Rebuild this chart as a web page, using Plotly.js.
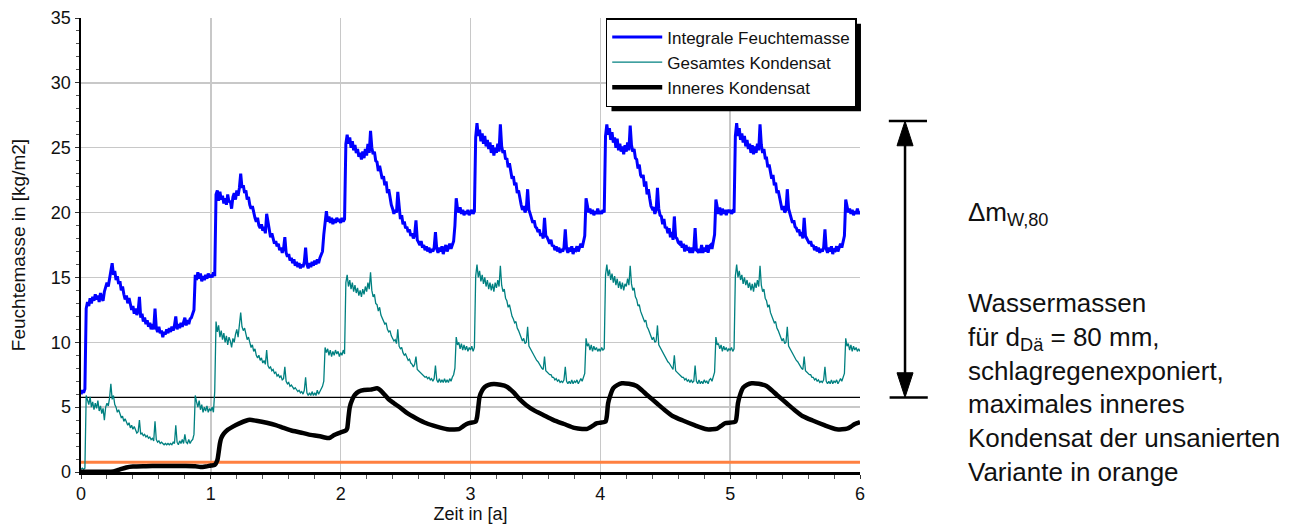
<!DOCTYPE html>
<html>
<head>
<meta charset="utf-8">
<script src="https://cdn.plot.ly/plotly-3.0.1.min.js"></script>
<style>
html, body { margin: 0; padding: 0; background: #ffffff; }
#chart { width: 1301px; height: 529px; }
</style>
</head>
<body>
<div id="chart"></div>
<script>
// ---- time axis of the sampled series (years), step 0.01 from 0 to 6 ----
const T_START = 0;
const T_STEP = 0.01;

// ---- Integrale Feuchtemasse [kg/m2], one value per 0.01 a ----
const integraleFeuchtemasse = [
  // year 0
  6.0, 6.3, 6.1, 6.4, 12.6, 13.1, 12.8, 13.4, 13.0, 13.5,
  13.2, 13.7, 13.3, 13.6, 13.1, 13.8, 13.4, 13.2, 13.9, 14.2,
  14.6, 14.3, 15.0, 15.4, 16.1, 15.2, 15.5, 14.8, 15.1, 14.5,
  14.7, 14.0, 14.3, 13.7, 13.3, 13.6, 13.0, 13.4, 12.8, 12.5,
  12.8, 12.2, 12.6, 12.1, 12.4, 13.5, 11.9, 12.2, 11.6, 11.9,
  11.4, 11.7, 11.2, 11.5, 11.0, 11.4, 11.0, 12.6, 11.1, 10.8,
  11.2, 10.7, 10.9, 10.4, 10.8, 10.6, 11.0, 10.7, 11.1, 10.8,
  11.2, 10.9, 11.3, 12.0, 11.0, 11.4, 11.1, 11.5, 11.2, 11.6,
  11.9, 11.3, 11.7, 11.4, 11.8, 11.9, 12.3, 12.5, 15.2, 14.8,
  15.4, 14.9, 15.3, 14.7, 15.1, 14.8, 15.2, 14.9, 15.3, 15.0,
  // year 1
  15.2, 15.0, 15.4, 15.1, 21.4, 21.7, 20.9, 21.6, 21.0, 21.3,
  20.7, 21.1, 20.6, 21.4, 20.8, 20.9, 20.3, 21.2, 21.5, 21.0,
  21.7, 21.3, 21.9, 23.0, 21.9, 22.1, 21.5, 21.7, 21.0, 21.2,
  20.6, 20.3, 20.5, 19.9, 19.6, 19.3, 19.6, 19.0, 18.8, 19.1,
  18.6, 18.9, 18.4, 19.9, 19.2, 18.5, 18.1, 18.4, 17.9, 17.6,
  17.8, 17.4, 17.6, 17.1, 17.3, 16.9, 17.2, 18.1, 16.9, 16.6,
  16.8, 16.3, 16.5, 16.1, 16.4, 15.9, 16.2, 15.8, 16.1, 15.7,
  16.0, 15.8, 16.2, 17.3, 16.0, 15.7, 16.1, 15.8, 16.2, 15.9,
  16.3, 16.0, 16.4, 16.1, 16.5, 16.7, 17.0, 18.3, 19.4, 20.1,
  19.3, 19.7, 19.2, 19.6, 19.1, 19.5, 19.2, 19.6, 19.3, 19.5,
  // year 2
  19.2, 19.6, 19.3, 19.5, 25.3, 26.0, 25.3, 25.8, 25.0, 25.5,
  24.8, 25.2, 24.6, 24.9, 24.3, 24.6, 24.1, 24.7, 24.2, 24.9,
  24.4, 25.3, 24.6, 26.3, 25.0, 24.5, 24.7, 24.0, 23.9, 23.2,
  23.6, 22.9, 22.6, 22.8, 22.1, 22.4, 21.5, 21.8, 21.1, 20.6,
  20.3, 19.9, 20.2, 20.0, 21.6, 20.4, 19.5, 19.8, 19.1, 19.3,
  18.8, 18.9, 18.5, 18.7, 18.2, 18.4, 18.0, 18.3, 19.4, 17.9,
  17.7, 17.5, 17.8, 17.3, 17.5, 17.1, 17.4, 17.0, 17.3, 16.9,
  17.2, 17.0, 17.3, 18.5, 17.2, 16.9, 17.3, 17.0, 17.4, 16.8,
  17.2, 17.5, 17.0, 17.3, 17.6, 17.2, 17.6, 17.8, 19.0, 21.1,
  20.3, 20.0, 20.4, 19.9, 20.2, 19.8, 20.1, 19.9, 20.2, 19.8,
  // year 3
  20.0, 20.2, 19.9, 20.1, 25.8, 26.9, 25.9, 26.4, 25.5, 26.1,
  25.3, 25.9, 25.1, 25.6, 24.9, 25.4, 24.6, 25.2, 24.4, 25.0,
  24.6, 25.3, 24.7, 26.8, 25.1, 24.6, 24.8, 24.1, 24.2, 23.5,
  23.8, 23.0, 22.6, 22.8, 22.1, 22.3, 21.5, 21.7, 21.0, 20.6,
  20.2, 20.5, 20.0, 20.3, 21.8, 20.2, 19.9, 19.6, 19.2, 19.4,
  18.9, 18.8, 18.5, 18.7, 18.2, 18.4, 18.0, 19.6, 18.2, 18.1,
  17.8, 17.6, 17.9, 17.4, 17.5, 17.1, 17.4, 17.0, 17.3, 16.9,
  17.2, 17.0, 17.3, 18.7, 17.2, 16.9, 17.3, 17.0, 17.4, 16.8,
  17.2, 17.1, 17.4, 17.0, 17.3, 17.6, 17.3, 17.8, 18.2, 21.1,
  20.4, 20.0, 20.3, 19.9, 20.2, 19.8, 20.1, 19.9, 20.3, 19.9,
  // year 4
  20.1, 19.9, 20.2, 20.0, 25.9, 26.8, 26.0, 26.5, 25.6, 26.2,
  25.4, 25.8, 25.0, 25.7, 24.8, 25.3, 24.7, 25.1, 24.5, 25.2,
  24.7, 25.4, 24.8, 26.7, 25.2, 24.7, 24.9, 24.2, 24.1, 23.4,
  23.7, 22.9, 22.7, 22.9, 22.0, 22.4, 21.4, 21.8, 21.1, 20.5,
  20.3, 20.4, 19.9, 20.2, 21.9, 20.3, 19.8, 19.7, 19.1, 19.5,
  18.8, 18.9, 18.4, 18.8, 18.1, 18.5, 17.9, 19.7, 18.1, 18.0,
  17.7, 17.6, 17.8, 17.3, 17.6, 17.0, 17.5, 17.1, 17.2, 16.9,
  17.3, 16.9, 17.2, 18.8, 17.1, 17.0, 17.2, 16.9, 17.5, 16.9,
  17.3, 17.0, 17.5, 16.9, 17.4, 17.5, 17.2, 17.9, 18.3, 21.0,
  20.5, 19.9, 20.4, 19.8, 20.3, 19.9, 20.2, 19.8, 20.2, 20.0,
  // year 5
  20.2, 19.9, 20.1, 20.0, 25.9, 26.9, 25.9, 26.5, 25.6, 26.1,
  25.4, 25.9, 25.1, 25.6, 24.9, 25.3, 24.6, 25.2, 24.5, 25.1,
  24.6, 25.3, 24.8, 26.8, 25.2, 24.6, 24.9, 24.2, 24.2, 23.5,
  23.7, 23.0, 22.6, 22.9, 22.1, 22.3, 21.5, 21.7, 21.1, 20.6,
  20.2, 20.5, 20.0, 20.2, 21.8, 20.3, 19.9, 19.6, 19.2, 19.4,
  18.9, 18.8, 18.5, 18.7, 18.2, 18.5, 18.0, 19.6, 18.2, 18.0,
  17.8, 17.6, 17.8, 17.4, 17.5, 17.1, 17.4, 17.0, 17.3, 16.9,
  17.2, 17.0, 17.3, 18.7, 17.2, 16.9, 17.3, 17.0, 17.4, 16.8,
  17.2, 17.1, 17.4, 17.0, 17.3, 17.6, 17.3, 17.8, 18.2, 21.0,
  20.4, 20.0, 20.3, 19.9, 20.2, 19.8, 20.1, 19.9, 20.3, 19.9,
  20.1
];

// ---- Gesamtes Kondensat [kg/m2], one value per 0.01 a ----
const gesamtesKondensat = [
  // year 0
  0.2, 0.3, 0.2, 0.3, 5.9, 5.6, 5.2, 5.8, 5.0, 5.4,
  4.8, 5.3, 4.9, 5.5, 4.7, 5.1, 4.5, 4.9, 4.0, 5.0,
  5.3, 5.1, 5.7, 6.8, 5.6, 5.9, 5.2, 5.0, 4.6, 4.8,
  4.4, 4.2, 4.3, 3.9, 4.1, 3.8, 3.6, 3.8, 3.4, 3.6,
  3.3, 3.5, 3.2, 3.0, 3.1, 4.0, 2.9, 3.0, 2.8, 2.9,
  2.7, 2.8, 2.6, 2.7, 2.5, 2.6, 2.4, 3.9, 2.5, 2.3,
  2.4, 2.2, 2.3, 2.2, 2.1, 2.2, 2.1, 2.2, 2.1, 2.2,
  2.1, 2.3, 2.2, 3.6, 2.3, 2.1, 2.4, 2.2, 2.5, 2.2,
  2.9, 2.3, 2.2, 2.5, 2.2, 2.4, 2.5, 2.9, 5.9, 5.4,
  5.0, 5.5, 4.8, 5.2, 4.6, 5.0, 4.7, 5.1, 4.6, 4.9,
  // year 1
  4.7, 5.0, 4.6, 6.2, 11.6, 10.8, 11.3, 10.4, 10.9, 10.2,
  10.7, 10.0, 10.5, 9.8, 10.4, 10.1, 9.6, 10.3, 10.0, 10.6,
  11.0, 10.4, 11.2, 12.3, 11.2, 10.9, 11.1, 10.5, 10.2, 10.4,
  9.9, 9.6, 9.8, 9.3, 9.5, 9.0, 8.8, 9.0, 8.6, 8.8,
  8.4, 8.6, 8.3, 9.4, 8.2, 8.0, 8.1, 7.8, 7.9, 7.6,
  7.7, 7.4, 7.5, 7.3, 7.4, 7.1, 7.2, 8.1, 7.0, 6.8,
  6.9, 6.6, 6.7, 6.5, 6.4, 6.5, 6.3, 6.2, 6.3, 6.1,
  6.2, 6.0, 6.3, 7.3, 6.1, 5.9, 6.1, 5.9, 6.2, 5.9,
  6.1, 5.9, 6.3, 6.0, 6.2, 6.4, 6.6, 7.0, 9.6, 9.2,
  9.5, 9.0, 9.4, 8.9, 9.3, 9.0, 9.4, 9.1, 9.3, 8.9,
  // year 2
  9.2, 9.0, 9.4, 9.1, 14.6, 15.2, 14.3, 14.8, 14.1, 14.6,
  13.9, 14.4, 13.8, 14.2, 13.6, 14.0, 13.5, 14.1, 13.7, 14.3,
  13.9, 14.6, 14.1, 15.4, 14.0, 13.5, 13.7, 13.0, 12.9, 12.4,
  12.7, 12.1, 11.9, 11.7, 11.4, 11.5, 11.0, 10.8, 10.9, 10.5,
  10.3, 10.1, 10.2, 9.9, 11.0, 9.7, 9.5, 9.6, 9.2, 9.0,
  9.1, 8.8, 8.6, 8.7, 8.4, 8.3, 8.1, 8.3, 8.9, 7.9,
  7.8, 7.7, 7.6, 7.5, 7.4, 7.3, 7.35, 7.2, 7.3, 7.1,
  7.2, 7.0, 7.2, 8.2, 7.1, 6.9, 7.2, 6.9, 7.1, 6.9,
  7.2, 6.9, 7.1, 6.9, 7.2, 7.0, 7.3, 7.5, 8.0, 10.4,
  9.8, 10.0, 9.5, 9.9, 9.4, 9.8, 9.4, 9.7, 9.3, 9.6,
  // year 3
  9.4, 9.7, 9.3, 9.6, 15.1, 16.0, 15.0, 15.5, 14.7, 15.2,
  14.5, 15.0, 14.3, 14.8, 14.1, 14.6, 14.0, 14.5, 13.9, 14.6,
  14.2, 14.8, 14.3, 15.9, 14.4, 13.9, 14.1, 13.4, 13.2, 12.7,
  12.9, 12.3, 12.0, 11.8, 11.5, 11.6, 11.1, 10.9, 10.6, 10.4,
  10.1, 10.3, 9.9, 10.0, 11.2, 9.7, 9.5, 9.3, 9.1, 8.9,
  8.8, 8.6, 8.5, 8.3, 8.2, 8.0, 7.9, 8.9, 7.8, 7.7,
  7.6, 7.5, 7.5, 7.3, 7.3, 7.1, 7.2, 7.0, 7.1, 6.9,
  7.0, 6.9, 7.1, 8.1, 7.0, 6.8, 7.0, 6.8, 7.1, 6.8,
  7.0, 6.9, 7.1, 6.8, 7.0, 7.2, 7.0, 7.3, 7.6, 10.3,
  9.7, 9.9, 9.4, 9.8, 9.3, 9.7, 9.4, 9.6, 9.3, 9.5,
  // year 4
  9.3, 9.6, 9.4, 9.5, 15.2, 16.0, 15.1, 15.6, 14.8, 15.3,
  14.6, 15.1, 14.4, 14.9, 14.2, 14.7, 14.1, 14.6, 14.0, 14.5,
  14.3, 14.9, 14.4, 15.9, 14.5, 14.0, 14.2, 13.5, 13.3, 12.8,
  12.9, 12.4, 12.1, 11.9, 11.6, 11.7, 11.2, 11.0, 10.7, 10.4,
  10.2, 10.4, 10.0, 10.1, 11.3, 9.8, 9.6, 9.4, 9.2, 9.0,
  8.9, 8.7, 8.5, 8.4, 8.2, 8.1, 7.9, 9.0, 7.8, 7.7,
  7.6, 7.5, 7.4, 7.3, 7.3, 7.1, 7.2, 7.0, 7.1, 6.9,
  7.1, 6.9, 7.0, 8.2, 7.0, 6.8, 7.1, 6.8, 7.0, 6.8,
  7.1, 6.9, 7.0, 6.8, 7.1, 7.2, 7.0, 7.4, 7.7, 10.4,
  9.8, 9.9, 9.5, 9.8, 9.3, 9.7, 9.4, 9.6, 9.3, 9.5,
  // year 5
  9.4, 9.6, 9.3, 9.5, 15.1, 16.0, 15.0, 15.5, 14.8, 15.2,
  14.5, 15.0, 14.4, 14.8, 14.2, 14.6, 14.0, 14.5, 13.9, 14.6,
  14.2, 14.8, 14.3, 15.9, 14.4, 13.9, 14.1, 13.4, 13.2, 12.7,
  12.9, 12.3, 12.0, 11.8, 11.5, 11.6, 11.1, 10.9, 10.6, 10.4,
  10.1, 10.3, 9.9, 10.0, 11.2, 9.7, 9.5, 9.3, 9.1, 8.9,
  8.8, 8.6, 8.5, 8.3, 8.2, 8.0, 7.9, 8.9, 7.8, 7.7,
  7.6, 7.5, 7.5, 7.3, 7.3, 7.1, 7.2, 7.0, 7.1, 6.9,
  7.0, 6.9, 7.1, 8.1, 7.0, 6.8, 7.0, 6.8, 7.1, 6.8,
  7.0, 6.9, 7.1, 6.8, 7.0, 7.2, 7.0, 7.3, 7.6, 10.3,
  9.7, 9.9, 9.4, 9.8, 9.3, 9.7, 9.4, 9.6, 9.3, 9.5,
  9.3
];

// ---- Inneres Kondensat [kg/m2] (smooth curve, explicit time/value pairs) ----
const inneresZeit = [
  0, 0.25, 0.3, 0.35, 0.4, 0.5, 0.6, 0.7, 0.8, 0.88, 0.92, 0.96, 1.0, 1.03,
  1.05, 1.06, 1.07, 1.08, 1.1, 1.13, 1.17, 1.22, 1.27, 1.3, 1.35, 1.43, 1.5,
  1.56, 1.62, 1.69, 1.75, 1.84, 1.9, 1.92, 1.95, 2.0, 2.04, 2.05, 2.06, 2.07,
  2.09, 2.11, 2.14, 2.18, 2.23, 2.28, 2.3, 2.33, 2.37, 2.41, 2.46, 2.51, 2.58,
  2.66, 2.74, 2.82, 2.87, 2.91, 2.94, 2.97, 3.0, 3.04, 3.05, 3.06, 3.07, 3.09,
  3.11, 3.14, 3.18, 3.23, 3.28, 3.33, 3.38, 3.43, 3.49, 3.56, 3.64, 3.72, 3.8,
  3.86, 3.9, 3.94, 3.97, 4.0, 4.04, 4.05, 4.06, 4.08, 4.1, 4.13, 4.165, 4.22,
  4.28, 4.32, 4.36, 4.435, 4.5, 4.56, 4.64, 4.72, 4.82, 4.9, 4.93, 4.96, 5.04,
  5.05, 5.06, 5.08, 5.1, 5.13, 5.165, 5.22, 5.28, 5.32, 5.36, 5.435, 5.5, 5.56,
  5.64, 5.72, 5.82, 5.9, 5.93, 5.96, 6.0
];
const inneresKondensat = [
  0.02, 0.05, 0.2, 0.35, 0.42, 0.45, 0.47, 0.47, 0.47, 0.45, 0.38, 0.42, 0.5, 0.55,
  0.9, 1.5, 2.2, 2.6, 2.95, 3.25, 3.5, 3.75, 3.95, 4.02, 3.95, 3.8, 3.62,
  3.4, 3.2, 3.05, 2.9, 2.75, 2.62, 2.65, 2.85, 3.05, 3.2, 3.35, 4.2, 5.0,
  5.6, 5.95, 6.2, 6.32, 6.35, 6.45, 6.35, 6.05, 5.6, 5.3, 4.95, 4.55, 4.15,
  3.76, 3.5, 3.3, 3.28, 3.3, 3.5, 3.7, 3.8, 3.88, 4.2, 5.0, 5.8, 6.3,
  6.55, 6.72, 6.78, 6.72, 6.58, 6.15, 5.6, 5.15, 4.75, 4.4, 4.0, 3.7, 3.4,
  3.32, 3.33, 3.55, 3.75, 3.8, 3.88, 4.3, 5.3, 6.0, 6.46, 6.7, 6.84, 6.8,
  6.63, 6.3, 5.94, 5.3, 4.75, 4.3, 3.95, 3.63, 3.29, 3.35, 3.55, 3.76, 3.88,
  4.3, 5.3, 6.05, 6.5, 6.72, 6.84, 6.8, 6.63, 6.3, 5.94, 5.3, 4.75, 4.3,
  3.95, 3.63, 3.29, 3.35, 3.5, 3.7, 3.85
];

// ---- reference levels [kg/m2] ----
const grenzeZeit = [0, 6];
const schwarzeLinie = 5.75;        // thin black reference line
const unsaniertMaxInnen = 0.75;    // max. inneres Kondensat, unsaniert (orange)
const deltaTop = 27.05;            // top of delta m_W,80 arrow
const deltaBottom = 5.75;          // bottom of delta m_W,80 arrow

// ---- texts ----
const seriesNames = ['Integrale Feuchtemasse', 'Gesamtes Kondensat', 'Inneres Kondensat'];
const xTitle = 'Zeit in [a]';
const yTitle = 'Feuchtemasse in [kg/m2]';
const deltaLabel = '\u0394m<sub>W,80</sub>';
const noteLines = [
  'Wassermassen',
  'für d<sub>Dä</sub> = 80 mm,',
  'schlagregenexponiert,',
  'maximales inneres',
  'Kondensat der unsanierten',
  'Variante in orange'
];

const timeAxis = integraleFeuchtemasse.map((_, i) => +(T_START + i * T_STEP).toFixed(2));

const FONT = 'Liberation Sans, Arial, Helvetica, sans-serif';

const traces = [
  { x: grenzeZeit, y: [schwarzeLinie, schwarzeLinie], mode: 'lines',
    line: { color: '#000000', width: 1.3 }, showlegend: false, hoverinfo: 'skip' },
  { x: grenzeZeit, y: [unsaniertMaxInnen, unsaniertMaxInnen], mode: 'lines',
    line: { color: '#ff8040', width: 3 }, showlegend: false, hoverinfo: 'skip' },
  { x: timeAxis, y: integraleFeuchtemasse, name: seriesNames[0], mode: 'lines',
    line: { color: '#0000ff', width: 3 } },
  { x: timeAxis, y: gesamtesKondensat, name: seriesNames[1], mode: 'lines',
    line: { color: '#008080', width: 1.3 } },
  { x: inneresZeit, y: inneresKondensat, name: seriesNames[2], mode: 'lines',
    line: { color: '#000000', width: 4.5, shape: 'spline', smoothing: 0.6 } }
];

const arrowX = 1.0578;
const halfW = 0.0103;
const headLen = 1.9;

const layout = {
  width: 1301, height: 529,
  margin: { l: 81, r: 441, t: 17.5, b: 57, pad: 0 },
  paper_bgcolor: '#ffffff', plot_bgcolor: '#ffffff',
  font: { family: FONT, color: '#111111', size: 18 },
  showlegend: true,
  legend: {
    x: 0.9958, y: 1.0, xanchor: 'right', yanchor: 'top',
    bgcolor: '#ffffff', bordercolor: '#000000', borderwidth: 1.5,
    font: { family: FONT, size: 17, color: '#111111' },
    itemwidth: 50, tracegroupgap: 0, traceorder: 'normal'
  },
  xaxis: {
    range: [0, 6], dtick: 1, tick0: 0, fixedrange: true,
    showline: true, linecolor: '#000000', linewidth: 2.5,
    ticks: 'outside', ticklen: 4, tickwidth: 1, tickcolor: '#333333',
    showgrid: true, gridcolor: '#c8c8c8', gridwidth: 1.5, zeroline: false,
    tickfont: { family: FONT, size: 18, color: '#111111' },
    minor: { dtick: 0.2, ticks: 'outside', ticklen: 4, tickcolor: '#555555', showgrid: false },
    title: { text: xTitle, font: { family: FONT, size: 18, color: '#111111' }, standoff: 5 },
    automargin: false
  },
  yaxis: {
    range: [0, 35], dtick: 5, tick0: 0, fixedrange: true,
    showline: true, linecolor: '#000000', linewidth: 2.5,
    ticks: 'outside', ticklen: 4, tickwidth: 1, tickcolor: '#333333',
    showgrid: true, gridcolor: '#c8c8c8', gridwidth: 1.5, zeroline: false,
    tickfont: { family: FONT, size: 18, color: '#111111' },
    minor: { dtick: 1, ticks: 'outside', ticklen: 3, tickcolor: '#555555', showgrid: false },
    title: { text: yTitle, font: { family: FONT, size: 19, color: '#111111' }, standoff: 20 },
    automargin: false
  },
  shapes: [
    { type: 'line', xref: 'paper', yref: 'y', x0: arrowX, x1: arrowX, y0: deltaBottom + headLen * 0.5, y1: deltaTop - headLen * 0.5,
      line: { color: '#000000', width: 2.5 } },
    { type: 'line', xref: 'paper', yref: 'y', x0: 1.037, x1: 1.086, y0: deltaTop, y1: deltaTop,
      line: { color: '#000000', width: 2.5 } },
    { type: 'line', xref: 'paper', yref: 'y', x0: 1.038, x1: 1.087, y0: deltaBottom, y1: deltaBottom,
      line: { color: '#000000', width: 2.5 } },
    { type: 'path', xref: 'paper', yref: 'y',
      path: 'M ' + arrowX + ',' + deltaTop + ' L ' + (arrowX - halfW) + ',' + (deltaTop - headLen) + ' L ' + (arrowX + halfW) + ',' + (deltaTop - headLen) + ' Z',
      fillcolor: '#000000', line: { color: '#000000', width: 1 } },
    { type: 'path', xref: 'paper', yref: 'y',
      path: 'M ' + arrowX + ',' + deltaBottom + ' L ' + (arrowX - halfW) + ',' + (deltaBottom + headLen) + ' L ' + (arrowX + halfW) + ',' + (deltaBottom + headLen) + ' Z',
      fillcolor: '#000000', line: { color: '#000000', width: 1 } }
  ],
  annotations: [
    { xref: 'paper', yref: 'paper', x: 1.136, y: 0.570, xanchor: 'left', yanchor: 'middle',
      text: deltaLabel, showarrow: false, align: 'left',
      font: { family: FONT, size: 26, color: '#111111' } },
    { xref: 'paper', yref: 'paper', x: 1.136, y: 0.186, xanchor: 'left', yanchor: 'middle',
      text: noteLines.join('<br>'), showarrow: false, align: 'left',
      font: { family: FONT, size: 26, color: '#111111' } }
  ]
};

Plotly.newPlot('chart', traces, layout, { displayModeBar: false, staticPlot: true }).then(function (gd) {
  // legend drop shadow, sized from the rendered legend box
  const bg = gd.querySelector('.legend .bg');
  const leg = gd.querySelector('.legend');
  if (!bg || !leg) return;
  const bb = bg.getBBox();
  const m = leg.transform.baseVal.consolidate().matrix;
  const size = gd._fullLayout._size;
  const off = 5;
  const left = m.e + bb.x + off, top = m.f + bb.y + off;
  const right = left + bb.width, bottom = top + bb.height;
  const toPx = (px) => (px - size.l) / size.w;
  const toPy = (py) => 1 - (py - size.t) / size.h;
  const shapes = gd.layout.shapes.slice();
  shapes.push({ type: 'rect', xref: 'paper', yref: 'paper', layer: 'above',
    x0: toPx(left), x1: toPx(right), y0: toPy(bottom), y1: toPy(top),
    fillcolor: '#000000', line: { width: 0 } });
  Plotly.relayout(gd, { shapes: shapes });
});
</script>
</body>
</html>
